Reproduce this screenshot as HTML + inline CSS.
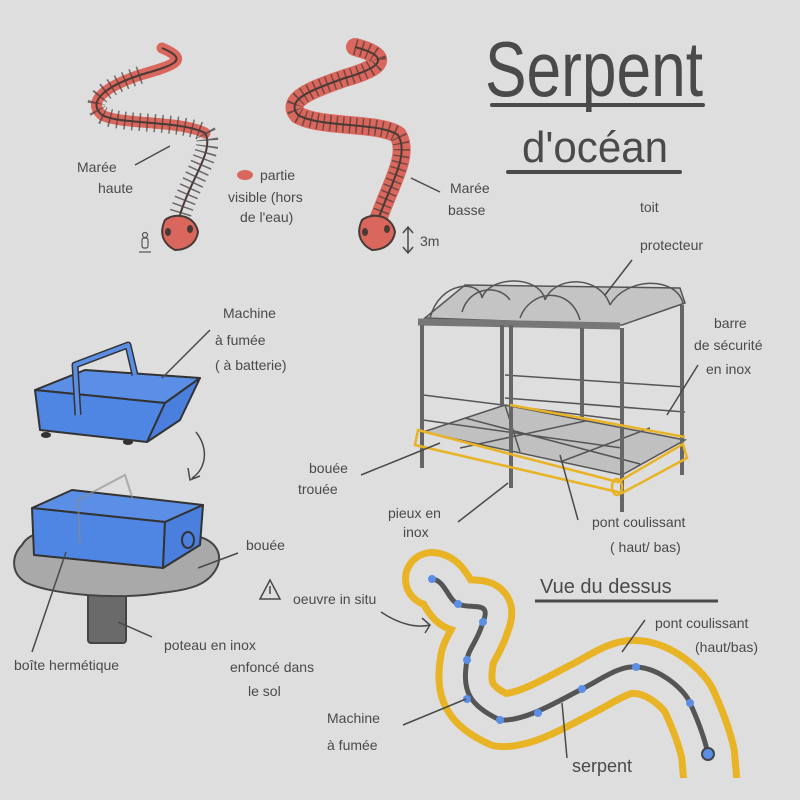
<!DOCTYPE html>
<html><head><meta charset="utf-8"><style>
html,body{margin:0;padding:0;background:#dedede}
svg{display:block}
text{font-family:"Liberation Sans",sans-serif;fill:#4a4a4a;font-size:14px}
</style></head><body>
<svg width="800" height="800" viewBox="0 0 800 800" xmlns="http://www.w3.org/2000/svg">
<defs>
<clipPath id="cl"><rect x="0" y="0" width="800" height="778"/></clipPath>
</defs>
<rect width="800" height="800" fill="#dedede"/>
<!-- Title -->
<text x="485" y="96" style="font-size:78px" textLength="218" lengthAdjust="spacingAndGlyphs">Serpent</text>
<line x1="492" y1="105" x2="703" y2="105" stroke="#4a4a4a" stroke-width="4" stroke-linecap="round"/>
<text x="522" y="162" style="font-size:44px" textLength="146" lengthAdjust="spacingAndGlyphs">d'océan</text>
<line x1="508" y1="172" x2="680" y2="172" stroke="#4a4a4a" stroke-width="4" stroke-linecap="round"/>

<!-- Left snake (high tide) -->
<path d="M162,48 C190,60 175,65 140,75 C110,85 85,100 102,115 C120,125 180,120 205,133" fill="none" stroke="#d9675d" stroke-width="11" stroke-linecap="round"/>
<path d="M162,48 C190,60 175,65 140,75 C110,85 85,100 102,115 C120,125 180,120 205,133 C215,150 190,180 180,215" fill="none" stroke="#4a3a36" stroke-width="2"/>
<path d="M205,133 C215,150 190,180 180,215" fill="none" stroke="#4a4a4a" stroke-width="22" stroke-dasharray="1.5 5" opacity="0.8"/>
<path d="M140,75 C110,85 85,100 102,115 C120,125 180,120 205,133" fill="none" stroke="#4a3a36" stroke-width="18" stroke-dasharray="1.5 6" opacity="0.7"/>
<path d="M165,220 C175,212 195,215 198,232 C196,245 185,250 175,250 C165,245 158,235 165,220Z" fill="#d9675d" stroke="#4a3a36" stroke-width="2"/>
<ellipse cx="168" cy="232" rx="3" ry="4" fill="#4a3a36"/><ellipse cx="190" cy="229" rx="3" ry="4" fill="#4a3a36"/>
<circle cx="145" cy="235" r="2.5" fill="none" stroke="#555" stroke-width="1.2"/>
<rect x="142" y="238" width="6" height="10" rx="2" fill="none" stroke="#555" stroke-width="1.2"/>
<line x1="139" y1="252" x2="151" y2="252" stroke="#555" stroke-width="1.2"/>
<text x="77" y="172">Marée</text><text x="98" y="193">haute</text>
<line x1="135" y1="165" x2="170" y2="146" stroke="#4a4a4a" stroke-width="1.5"/>
<ellipse cx="245" cy="175" rx="8" ry="5" fill="#d9675d"/>
<text x="260" y="180">partie</text>
<text x="228" y="202">visible (hors</text>
<text x="240" y="222">de l'eau)</text>

<!-- Right snake (low tide) -->
<path d="M355,47 C385,55 390,65 345,78 C310,90 285,100 298,115 C320,128 380,122 398,135 C410,155 390,185 378,220" fill="none" stroke="#d9675d" stroke-width="18" stroke-linecap="round"/>
<path d="M355,47 C385,55 390,65 345,78 C310,90 285,100 298,115 C320,128 380,122 398,135 C410,155 390,185 378,220" fill="none" stroke="#4a3a36" stroke-width="2"/>
<path d="M355,47 C385,55 390,65 345,78 C310,90 285,100 298,115 C320,128 380,122 398,135 C410,155 390,185 378,220" fill="none" stroke="#4a3a36" stroke-width="16" stroke-dasharray="1.5 5" opacity="0.7"/>
<path d="M362,220 C372,212 392,215 395,232 C393,245 382,250 372,250 C362,245 355,235 362,220Z" fill="#d9675d" stroke="#4a3a36" stroke-width="2"/>
<ellipse cx="365" cy="232" rx="3" ry="4" fill="#4a3a36"/><ellipse cx="387" cy="229" rx="3" ry="4" fill="#4a3a36"/>
<line x1="411" y1="178" x2="440" y2="192" stroke="#4a4a4a" stroke-width="1.5"/>
<text x="450" y="193">Marée</text><text x="448" y="215">basse</text>
<path d="M408,228 L408,252 M403,233 L408,227 L413,233 M403,247 L408,253 L413,247" fill="none" stroke="#4a4a4a" stroke-width="1.5"/>
<text x="420" y="246">3m</text>

<!-- Shelter -->
<g stroke="#555" fill="none" stroke-width="1.5">
<path d="M425,318 L465,285 L680,288 L685,303 L622,325 Z" fill="#c4c4c4"/>
<path d="M430,318 C440,280 480,280 482,298 M482,298 C490,275 540,275 545,300 M545,300 C555,275 600,275 610,305 M610,305 C625,278 675,275 683,303" />
<path d="M462,312 C470,285 500,285 510,300 M520,318 C530,290 570,285 580,320"/>
<path d="M418,322 L620,326" stroke-width="7" stroke="#777"/>
<path d="M423,432 L505,405 L685,440 L622,475 Z" fill="#c0c0c0"/>
<path d="M465,418 L640,464 M505,405 L520,452 M460,448 L590,420 M560,462 L650,428"/>
<path d="M423,395 L622,420 M423,420 L622,448 M505,375 L685,387 M505,398 L685,412" />
</g>
<g stroke="#666" stroke-width="4">
<line x1="422" y1="325" x2="422" y2="468"/>
<line x1="511" y1="325" x2="511" y2="488"/>
<line x1="622" y1="328" x2="622" y2="512"/>
<line x1="502" y1="325" x2="502" y2="405"/>
<line x1="582" y1="328" x2="582" y2="420"/>
<line x1="682" y1="305" x2="682" y2="475"/>
</g>
<path d="M418,430 L618,482 L683,444 L687,458 L622,493 L415,445 Z" fill="none" stroke="#e8b325" stroke-width="2.5"/>
<line x1="510" y1="405" x2="685" y2="437" stroke="#e8b325" stroke-width="2.5"/>
<ellipse cx="617" cy="487" rx="5" ry="8" fill="none" stroke="#e8b325" stroke-width="2.5"/>
<text x="640" y="212">toit</text><text x="640" y="250">protecteur</text>
<line x1="632" y1="260" x2="605" y2="295" stroke="#4a4a4a" stroke-width="1.5"/>
<text x="714" y="328">barre</text><text x="694" y="350">de sécurité</text><text x="706" y="374">en inox</text>
<line x1="698" y1="365" x2="667" y2="415" stroke="#4a4a4a" stroke-width="1.5"/>
<text x="309" y="473">bouée</text><text x="298" y="494">trouée</text>
<line x1="361" y1="475" x2="440" y2="443" stroke="#4a4a4a" stroke-width="1.5"/>
<text x="388" y="518">pieux en</text><text x="403" y="537">inox</text>
<line x1="458" y1="522" x2="508" y2="483" stroke="#4a4a4a" stroke-width="1.5"/>
<text x="592" y="527">pont coulissant</text><text x="610" y="552">( haut/ bas)</text>
<line x1="578" y1="520" x2="560" y2="455" stroke="#4a4a4a" stroke-width="1.5"/>

<!-- Smoke machine top -->
<g stroke="#333" stroke-width="2" stroke-linejoin="round">
<path d="M35,390 L85,370 L200,378 L165,403 Z" fill="#5b8fe6"/>
<path d="M35,390 L165,403 L147,442 L40,430 Z" fill="#4f86e4"/>
<path d="M165,403 L200,378 L180,420 L147,442 Z" fill="#4a7fde"/>
<path d="M78,415 L75,365 L128,345 L135,375" fill="none" stroke="#333" stroke-width="7"/>
<path d="M78,415 L75,365 L128,345 L135,375" fill="none" stroke="#5b8fe6" stroke-width="4"/>
<ellipse cx="46" cy="435" rx="4" ry="2" fill="#333"/><ellipse cx="128" cy="442" rx="4" ry="2" fill="#333"/>
</g>
<line x1="162" y1="378" x2="210" y2="330" stroke="#4a4a4a" stroke-width="1.5"/>
<text x="223" y="318">Machine</text><text x="215" y="345">à fumée</text><text x="215" y="370">( à batterie)</text>
<path d="M196,432 C210,450 205,470 192,478 M188,468 L190,480 L200,476" fill="none" stroke="#4a4a4a" stroke-width="1.5"/>

<!-- Buoy + box -->
<rect x="88" y="585" width="38" height="58" rx="3" fill="#6a6a6a" stroke="#444" stroke-width="2"/>
<path d="M22,545 C30,530 60,527 80,532 L190,535 C215,538 222,552 218,565 C210,585 190,590 160,593 C120,600 50,595 25,582 C10,572 12,555 22,545Z" fill="#a9a9a9" stroke="#444" stroke-width="2"/>
<g stroke="#333" stroke-width="2" stroke-linejoin="round">
<path d="M32,508 L72,490 L203,505 L165,522 Z" fill="#5b8fe6"/>
<path d="M32,508 L165,522 L163,568 L34,555 Z" fill="#4f86e4"/>
<path d="M165,522 L203,505 L200,545 L163,568 Z" fill="#4a7fde"/>
<ellipse cx="188" cy="540" rx="6" ry="8" fill="#4a7fde"/>
</g>
<path d="M80,545 L78,500 L125,475 L133,500" fill="none" stroke="#888" stroke-width="2" opacity="0.6"/>
<text x="246" y="550">bouée</text>
<line x1="238" y1="553" x2="198" y2="568" stroke="#4a4a4a" stroke-width="1.5"/>
<line x1="66" y1="552" x2="32" y2="652" stroke="#4a4a4a" stroke-width="1.5"/>
<text x="14" y="670">boîte hermétique</text>
<line x1="118" y1="622" x2="152" y2="637" stroke="#4a4a4a" stroke-width="1.5"/>
<text x="164" y="650">poteau en inox</text><text x="230" y="672">enfoncé dans</text><text x="248" y="696">le sol</text>

<!-- Top view -->
<path d="M260,599 L270,580 L280,599 Z" fill="none" stroke="#4a4a4a" stroke-width="1.5"/>
<line x1="270" y1="586" x2="270" y2="594" stroke="#4a4a4a" stroke-width="1.5"/>
<text x="293" y="604">oeuvre in situ</text>
<path d="M381,612 C400,625 418,628 430,625 M422,618 L430,625 L425,633" fill="none" stroke="#4a4a4a" stroke-width="1.5"/>
<text x="540" y="593" style="font-size:20px">Vue du dessus</text>
<line x1="535" y1="601" x2="718" y2="601" stroke="#4a4a4a" stroke-width="3"/>
<g clip-path="url(#cl)">
<path id="sp" d="M432,579 C445,580 448,600 458,604 C472,610 492,600 483,622 C478,640 468,650 467,660 C462,690 468,705 500,720 C525,722 560,700 582,689 C600,680 620,665 636,667 C660,668 685,690 690,703 C700,725 705,740 708,754 L712,800" fill="none" stroke="#e8b325" stroke-width="60" stroke-linejoin="round" stroke-linecap="round"/>
<path d="M432,579 C445,580 448,600 458,604 C472,610 492,600 483,622 C478,640 468,650 467,660 C462,690 468,705 500,720 C525,722 560,700 582,689 C600,680 620,665 636,667 C660,668 685,690 690,703 C700,725 705,740 708,754 L712,800" fill="none" stroke="#dedede" stroke-width="46" stroke-linejoin="round" stroke-linecap="round"/>
</g>
<path d="M432,579 C445,580 448,600 458,604 C472,610 492,600 483,622 C478,640 468,650 467,660 C462,690 468,705 500,720 C525,722 560,700 582,689 C600,680 620,665 636,667 C660,668 685,690 690,703 C700,725 705,740 708,754" fill="none" stroke="#555" stroke-width="5" stroke-linecap="round"/>
<g fill="#5b8fe6">
<circle cx="432" cy="579" r="4"/><circle cx="458" cy="604" r="4"/><circle cx="483" cy="622" r="4"/><circle cx="467" cy="660" r="4"/>
<circle cx="467" cy="699" r="4"/><circle cx="500" cy="720" r="4"/><circle cx="538" cy="713" r="4"/><circle cx="582" cy="689" r="4"/>
<circle cx="636" cy="667" r="4"/><circle cx="690" cy="703" r="4"/>
<circle cx="708" cy="754" r="6" stroke="#444" stroke-width="2"/>
</g>
<text x="655" y="628">pont coulissant</text><text x="695" y="652">(haut/bas)</text>
<line x1="645" y1="620" x2="622" y2="652" stroke="#4a4a4a" stroke-width="1.5"/>
<line x1="403" y1="725" x2="466" y2="699" stroke="#4a4a4a" stroke-width="1.5"/>
<text x="327" y="723">Machine</text><text x="327" y="750">à fumée</text>
<line x1="562" y1="703" x2="567" y2="758" stroke="#4a4a4a" stroke-width="1.5"/>
<text x="572" y="772" style="font-size:18px">serpent</text>
</svg>
</body></html>
